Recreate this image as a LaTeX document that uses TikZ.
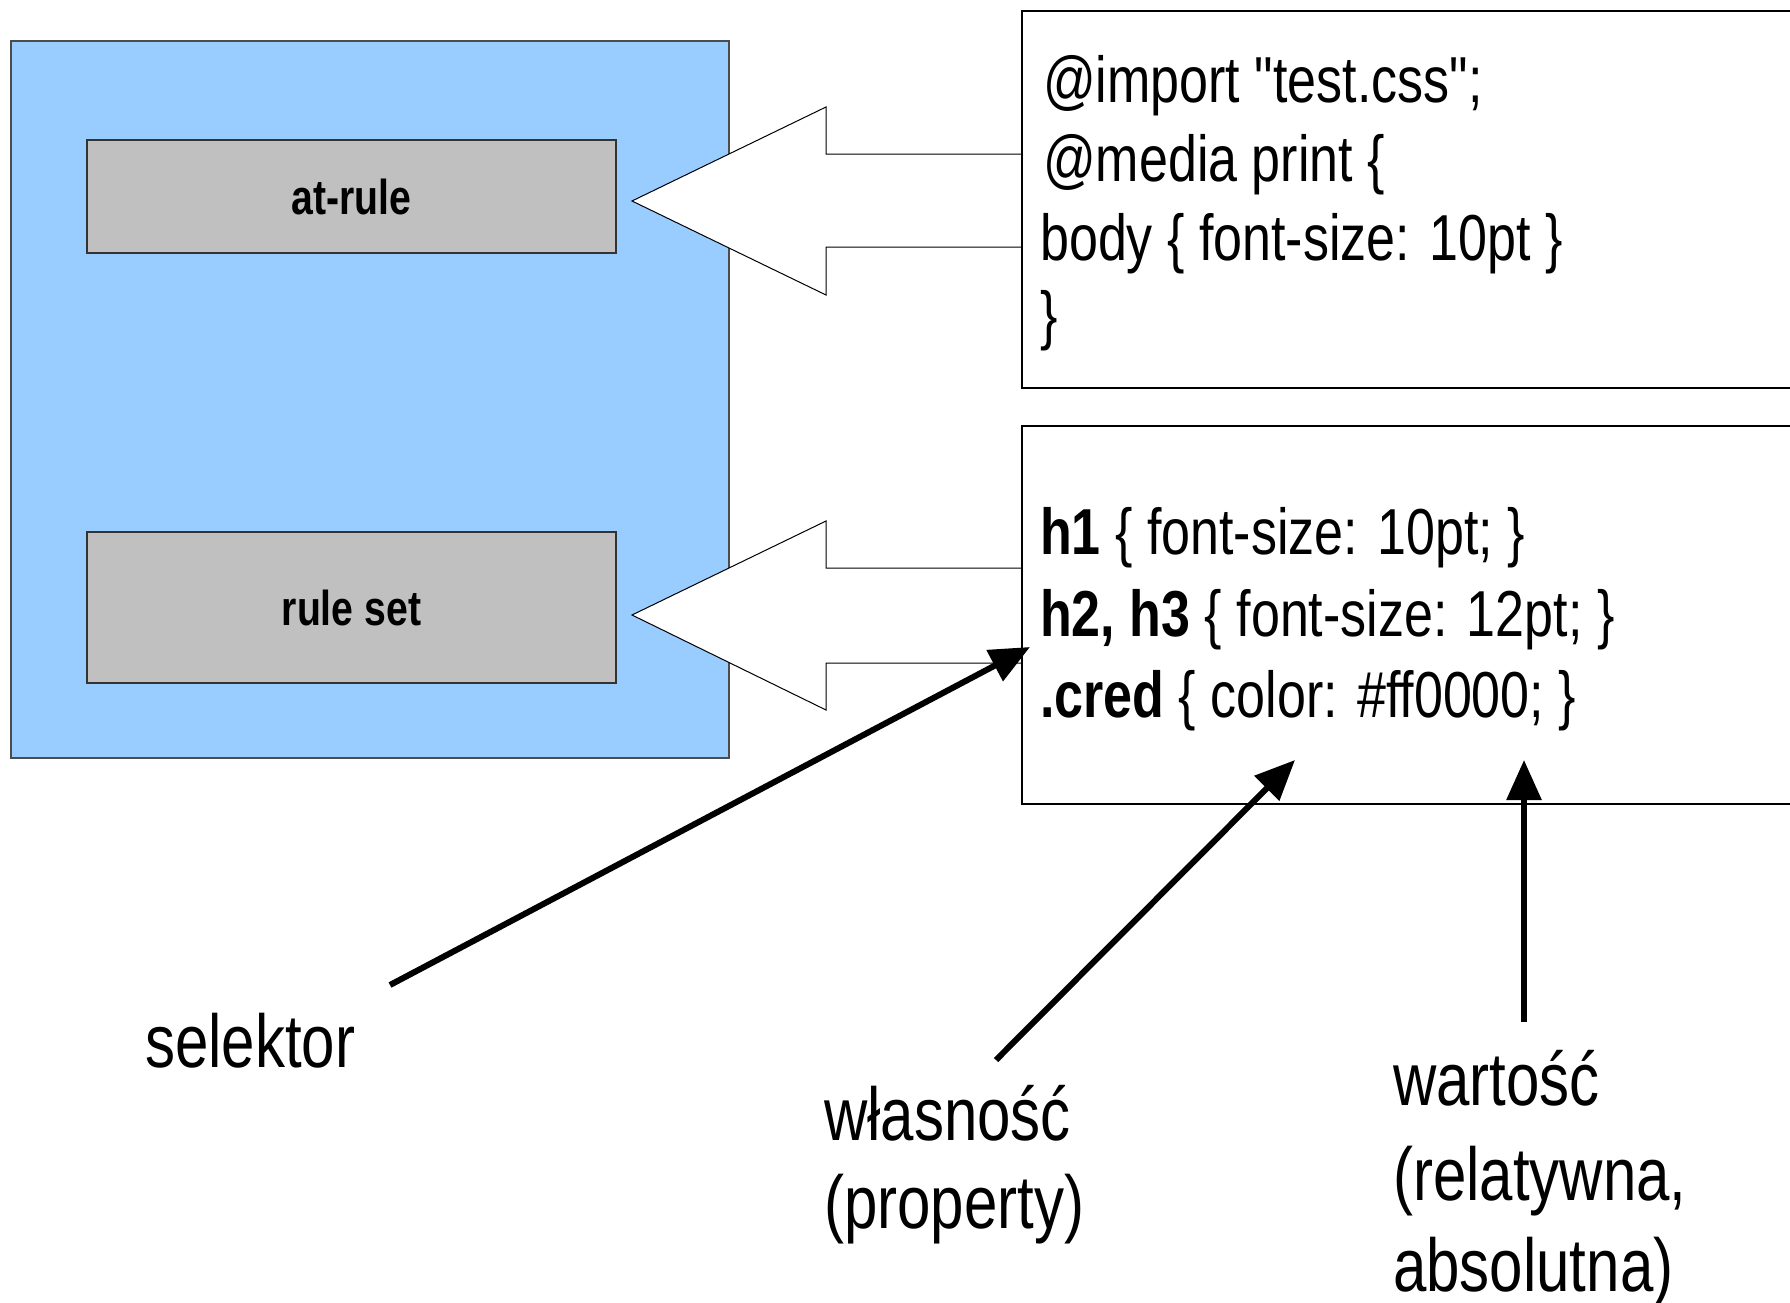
\documentclass[tikz,border=0pt]{standalone}
\usepackage{fontspec}
\setmainfont{Liberation Sans}
\newfontfamily\narrowfont{Liberation Sans}[FakeStretch=0.8]
\usetikzlibrary{arrows.meta}

\begin{document}
\begin{tikzpicture}[x=1pt,y=-1pt,
        codeline/.style={anchor=base west, inner sep=0pt, font=\narrowfont\fontsize{65}{78}\selectfont},
        labeltext/.style={anchor=base west, inner sep=0pt, font=\narrowfont\fontsize{75}{90}\selectfont},
        rulebox/.style={draw=black!80, fill=rulegrey, line width=1.2pt, minimum width=529pt, minimum height=113pt, font=\narrowfont\bfseries\fontsize{49}{56}\selectfont},
        blockarrow/.style={draw=black, fill=white, line width=1pt},
        pointer/.style={line width=6pt, -{Triangle[length=40pt,width=34pt]}}]
        % Define colors
        \definecolor{panelblue}{RGB}{153,204,255}
        \definecolor{rulegrey}{RGB}{192,192,192}

        \path[use as bounding box, fill=white] (0,0) rectangle (1790,1303);

        % Draw stylesheet panel
        \filldraw[fill=panelblue, draw=black!70, line width=1.2pt] (11,41) rectangle (729,758);
        \node[rulebox] (atrule) at (351.5,196.5) {at-rule};
        \node[rulebox, minimum height=151pt] (ruleset) at (351.5,607.5) {rule set};

        % Draw block arrows
        \filldraw[blockarrow] (1022,154) -- (826,154) -- (826,107) -- (632,201) -- (826,295) -- (826,247) -- (1022,247);
        \filldraw[blockarrow] (1022,568) -- (826,568) -- (826,521) -- (632,615) -- (826,710) -- (826,663) -- (1022,663);

        % Draw code boxes
        \draw[line width=1.2pt] (1022,11) rectangle (1840,388);
        \draw[line width=1.2pt] (1022,426) rectangle (1840,804);

        % Code of the at-rule
        \node[codeline] (imp) at (1043,103) {@import "test.css";};
        \node[codeline] (med) at (1043,181) {@media print \{};
        \node[codeline] (bod) at (1040,260) {body \{ font-size: 10pt \}};
        \node[codeline] (clo) at (1040,337) {\}};

        % Code of the rule set
        \node[codeline] (hone) at (1040,554) {\textbf{h1} \{ font-size: 10pt; \}};
        \node[codeline] (htwo) at (1040,636) {\textbf{h2, h3} \{ font-size: 12pt; \}};
        \node[codeline] (cred) at (1040,717) {\textbf{.cred} \{ color: \#ff0000; \}};

        % Label the parts
        \node[labeltext] (sel) at (145,1067) {selektor};
        \node[labeltext] (prop) at (824,1140) {własność};
        \node[labeltext] (propEn) at (824,1228) {(property)};
        \node[labeltext] (val) at (1393,1105) {wartość};
        \node[labeltext] (valRel) at (1393,1200) {(relatywna,};
        \node[labeltext] (valAbs) at (1393,1291) {absolutna)};

        % Draw pointers
        \coordinate (selFoot) at (390,985);
        \coordinate (selTip) at (1030,647);
        \coordinate (propFoot) at (996,1060);
        \coordinate (propTip) at (1295,760);
        \coordinate (valFoot) at (1524,1022);
        \coordinate (valTip) at (1524,760);
        \draw[pointer] (selFoot) -- (selTip);
        \draw[pointer] (propFoot) -- (propTip);
        \draw[pointer] (valFoot) -- (valTip);
    \end{tikzpicture}
\end{document}
